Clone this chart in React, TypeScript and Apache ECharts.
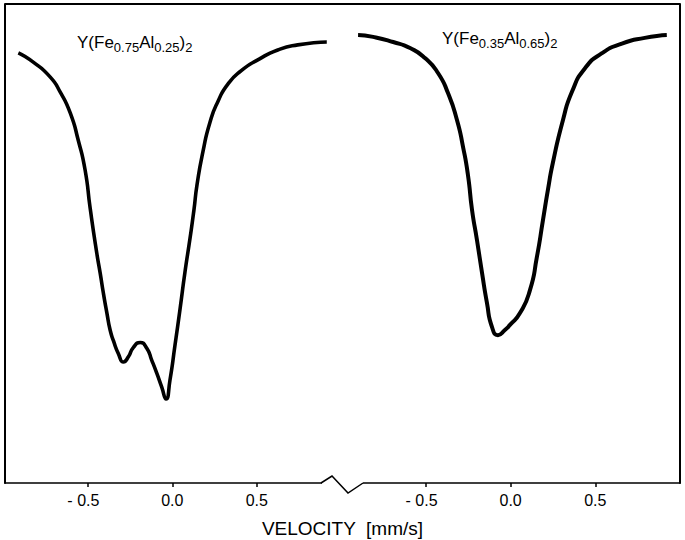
import React, { useEffect, useRef } from "react";
import * as echarts from "echarts";

// Left spectrum: Y(Fe0.75Al0.25)2
const leftVelocity = [-0.911, -0.823, -0.722, -0.663, -0.604, -0.557, -0.516, -0.486, -0.447, -0.427, -0.408, -0.387, -0.368, -0.348, -0.319, -0.289, -0.26, -0.23, -0.19, -0.151, -0.122, -0.092, -0.063, -0.037, -0.014, 0.016, 0.045, 0.075, 0.105, 0.128, 0.146, 0.181, 0.223, 0.27, 0.33, 0.41, 0.506, 0.624, 0.742, 0.914];
const leftTransmission = [99.47, 99.18, 98.71, 98.24, 97.59, 96.74, 95.8, 94.6, 93.2, 92.58, 91.95, 91.32, 90.79, 90.45, 90.05, 89.79, 89.95, 90.25, 90.4, 90.22, 89.85, 89.44, 89.01, 88.63, 89.22, 90.32, 91.42, 92.61, 93.67, 94.55, 95.33, 96.37, 97.3, 97.95, 98.5, 98.92, 99.25, 99.56, 99.72, 99.81];

// Right spectrum: Y(Fe0.35Al0.65)2
const rightVelocity = [-0.901, -0.812, -0.694, -0.594, -0.506, -0.429, -0.37, -0.317, -0.281, -0.252, -0.228, -0.199, -0.169, -0.14, -0.11, -0.075, -0.034, -0.004, 0.055, 0.114, 0.155, 0.191, 0.22, 0.249, 0.309, 0.362, 0.438, 0.539, 0.657, 0.792, 0.922];
const rightTransmission = [100.03, 99.97, 99.81, 99.62, 99.31, 98.84, 98.21, 97.37, 96.52, 95.64, 94.55, 93.61, 92.58, 91.64, 90.88, 90.63, 90.79, 90.95, 91.32, 92.04, 93.08, 94.24, 95.18, 96.02, 97.37, 98.25, 98.98, 99.46, 99.76, 99.94, 100.03];

const tickValues = [-0.5, 0, 0.5];
const axisTitle = "VELOCITY  [mm/s]";

const FONT = "'Liberation Sans', Arial, sans-serif";
const L = 5, R = 680, T = 4, B = 483, SPLIT = 343;

function xAxis(gridIndex: number, min: number, max: number) {
  return {
    type: "value",
    gridIndex,
    min,
    max,
    position: "bottom",
    splitLine: { show: false },
    axisLine: { show: true, onZero: false, lineStyle: { color: "#000", width: 1.5 } },
    axisTick: { show: true, customValues: tickValues, length: 4, lineStyle: { color: "#000", width: 1.5 } },
    axisLabel: {
      show: true,
      customValues: tickValues,
      margin: 9,
      color: "#000",
      fontSize: 16,
      fontFamily: FONT,
      formatter: (v: number) => (v < 0 ? "- " + Math.abs(v).toFixed(1) + "  " : v.toFixed(1)),
    },
  };
}

function yAxis(gridIndex: number, position: string) {
  return {
    type: "value",
    gridIndex,
    min: 86,
    max: 101,
    position,
    splitLine: { show: false },
    axisLine: { show: true, onZero: false, lineStyle: { color: "#000", width: 2 } },
    axisTick: { show: false },
    axisLabel: { show: false },
  };
}

function pairs(xs: number[], ys: number[]) {
  return xs.map((x, i) => [x, ys[i]]);
}

const rich = {
  a: { fontSize: 17, fontFamily: FONT, color: "#000", verticalAlign: "top", lineHeight: 20 },
  s: { fontSize: 13, fontFamily: FONT, color: "#000", verticalAlign: "bottom", lineHeight: 13, padding: [12, 0, 0, 0] },
};

export default function App() {
  const ref = useRef<HTMLDivElement>(null);
  useEffect(() => {
    if (!ref.current) return;
    const chart = echarts.init(ref.current, null, { renderer: "svg" });
    chart.setOption({
      animation: false,
      backgroundColor: "#fff",
      title: {
        text: axisTitle,
        left: "center",
        top: 514,
        textStyle: { fontSize: 19, fontWeight: "normal", color: "#000", fontFamily: FONT },
      },
      grid: [
        { left: L, top: T, width: SPLIT - L, height: B - T },
        { left: SPLIT, top: T, width: R - SPLIT, height: B - T },
      ],
      xAxis: [xAxis(0, -0.99, 1.01), xAxis(1, -0.99, 1.0)],
      yAxis: [yAxis(0, "left"), yAxis(1, "right")],
      series: [
        {
          type: "line",
          xAxisIndex: 0,
          yAxisIndex: 0,
          data: pairs(leftVelocity, leftTransmission),
          smooth: 0.6,
          showSymbol: false,
          lineStyle: { color: "#000", width: 3.6 },
        },
        {
          type: "line",
          xAxisIndex: 1,
          yAxisIndex: 1,
          data: pairs(rightVelocity, rightTransmission),
          smooth: 0.6,
          showSymbol: false,
          lineStyle: { color: "#000", width: 4 },
        },
      ],
      graphic: [
        { type: "line", z: 100, shape: { x1: L, y1: T, x2: R, y2: T }, style: { stroke: "#000", lineWidth: 2 } },
        { type: "rect", z: 100, shape: { x: 322, y: 480, width: 41, height: 6 }, style: { fill: "#fff" } },
        {
          type: "polyline",
          z: 101,
          shape: { points: [[321, 483], [332, 476], [348, 493], [363, 483]] },
          style: { stroke: "#000", lineWidth: 1.5, fill: null },
        },
        {
          type: "text",
          z: 100,
          left: 77,
          top: 29,
          style: { text: "{a|Y(Fe}{s|0.75}{a|Al}{s|0.25}{a|)}{s|2}", rich },
        },
        {
          type: "text",
          z: 100,
          left: 442,
          top: 25,
          style: { text: "{a|Y(Fe}{s|0.35}{a|Al}{s|0.65}{a|)}{s|2}", rich },
        },
      ],
    });
    return () => chart.dispose();
  }, []);
  return <div ref={ref} style={{ position: "fixed", left: 0, top: 0, width: 685, height: 540 }} />;
}
